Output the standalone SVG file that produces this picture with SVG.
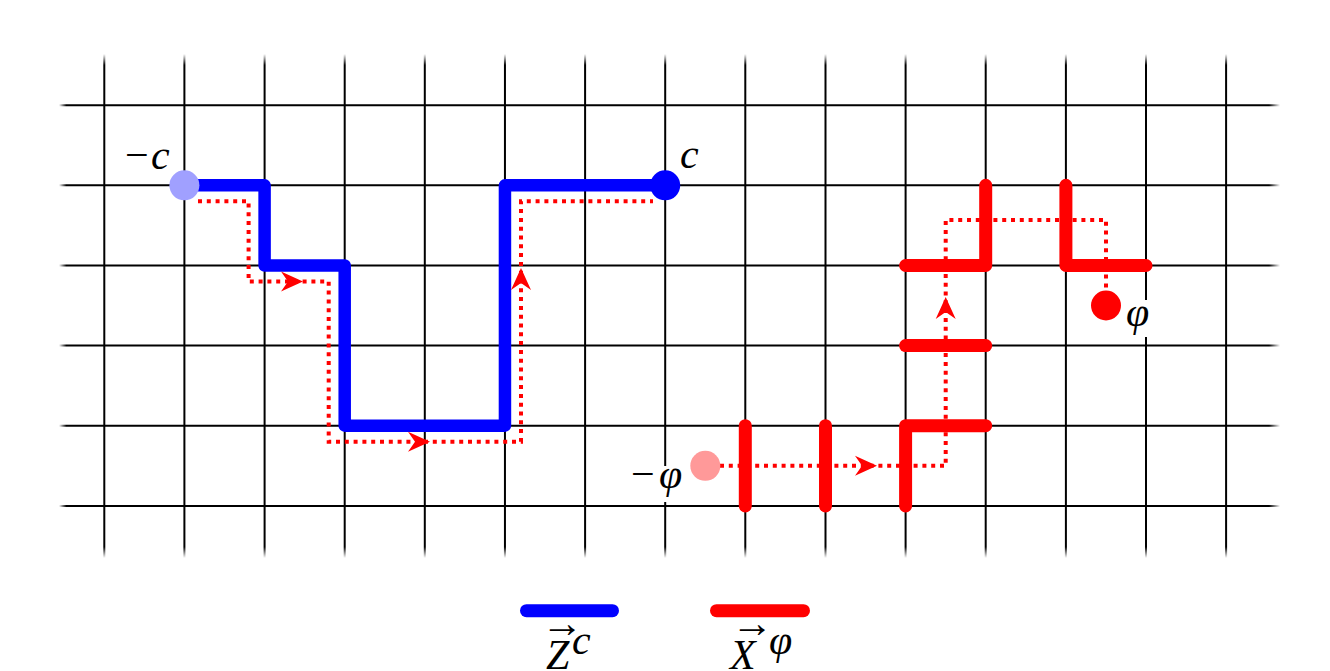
<svg xmlns="http://www.w3.org/2000/svg" xmlns:xlink="http://www.w3.org/1999/xlink" width="1330" height="671" viewBox="0 0 1330 671">
<style>
  .gv { stroke: url(#fadeV); stroke-width: 2; fill: none; }
  .gh { stroke: url(#fadeH); stroke-width: 2; fill: none; }
  .zc { stroke: #0000ff; stroke-width: 12.5; fill: none; stroke-linejoin: round; stroke-linecap: round; }
  .xp { stroke: #ff0000; stroke-width: 13; fill: none; stroke-linejoin: round; stroke-linecap: round; }
  .dot { stroke: #ff0000; stroke-width: 4; fill: none; stroke-dasharray: 4 4.8; }
  .ah { fill: #ff0000; }
  .lbl { font-family: "Liberation Serif", "DejaVu Serif", serif; font-size: 42px; fill: #000; }
  .it { font-style: italic; }
</style>
<defs>
  <linearGradient id="fadeV" gradientUnits="userSpaceOnUse" x1="0" y1="54" x2="0" y2="558">
    <stop offset="0" stop-color="#000" stop-opacity="0"/>
    <stop offset="0.022" stop-color="#000" stop-opacity="1"/>
    <stop offset="0.978" stop-color="#000" stop-opacity="1"/>
    <stop offset="1" stop-color="#000" stop-opacity="0"/>
  </linearGradient>
  <linearGradient id="fadeH" gradientUnits="userSpaceOnUse" x1="59" y1="0" x2="1280" y2="0">
    <stop offset="0" stop-color="#000" stop-opacity="0"/>
    <stop offset="0.006" stop-color="#000" stop-opacity="1"/>
    <stop offset="0.991" stop-color="#000" stop-opacity="1"/>
    <stop offset="1" stop-color="#000" stop-opacity="0"/>
  </linearGradient>
  <path id="ah" d="M0,0 L-22,-10 L-15,0 L-22,10 Z"/>
</defs>

<g id="grid">
  <path class="gv" d="M104.3,54 V558 M184.4,54 V558 M264.6,54 V558 M344.7,54 V558 M424.8,54 V558 M504.95,54 V558 M585.1,54 V558 M665.2,54 V558 M745.3,54 V558 M825.5,54 V558 M905.6,54 V558 M985.7,54 V558 M1065.9,54 V558 M1146,54 V558 M1226.1,54 V558"/>
  <path class="gh" d="M59,105.2 H1280 M59,185.3 H1280 M59,265.5 H1280 M59,345.6 H1280 M59,425.7 H1280 M59,505.9 H1280"/>
</g>

<g id="connectors">
  <path id="Zc-path" class="zc" d="M184.4,185.3 H264.6 V265.5 H344.7 V425.7 H504.95 V185.3 H665.2"/>
  <g id="Xphi-edges">
    <path class="xp" d="M745.3,425.7 V505.9"/>
    <path class="xp" d="M825.5,425.7 V505.9"/>
    <path class="xp" d="M905.6,505.9 V425.7 H985.7"/>
    <path class="xp" d="M905.6,345.6 H985.7"/>
    <path class="xp" d="M905.6,265.5 H985.7 V185.3"/>
    <path class="xp" d="M1065.9,185.3 V265.5 H1146"/>
  </g>
  <path id="dual-c" class="dot" d="M198,201.3 H248.6 V281.5 H328.7 V441.7 H521 V201.3 H653"/>
  <path id="dual-phi" class="dot" d="M720,465.8 H945.7 V220 H1106 V291"/>
  <use href="#ah" class="ah" transform="translate(303,281.5)"/>
  <use href="#ah" class="ah" transform="translate(430,441.7)"/>
  <use href="#ah" class="ah" transform="translate(521,268) rotate(-90)"/>
  <use href="#ah" class="ah" transform="translate(877,465.8)"/>
  <use href="#ah" class="ah" transform="translate(945.7,297) rotate(-90)"/>
</g>

<g id="node-minus-c">
  <circle cx="184.4" cy="185.3" r="15" fill="#a0a0ff"/>
  <text class="lbl" x="125" y="169">−</text>
  <text class="lbl it" x="151" y="169">c</text>
</g>
<g id="node-c">
  <circle cx="665.2" cy="185.3" r="15" fill="#0000ff"/>
  <text class="lbl it" x="680" y="168">c</text>
</g>
<g id="node-minus-phi">
  <circle cx="705.3" cy="465.8" r="15" fill="#ff9999"/>
  <rect x="655" y="466" width="34" height="36" fill="#fff"/>
  <text class="lbl" x="631" y="488">−</text>
  <text class="lbl it" x="659" y="488">φ</text>
</g>
<g id="node-phi">
  <circle cx="1106" cy="305.5" r="15" fill="#ff0000"/>
  <rect x="1125" y="300" width="32" height="37" fill="#fff"/>
  <text class="lbl it" x="1126" y="326">φ</text>
</g>

<g id="legend">
  <line x1="526.5" y1="610.7" x2="612.5" y2="610.7" stroke="#0000ff" stroke-width="13" stroke-linecap="round"/>
  <line x1="716.5" y1="610.7" x2="803.5" y2="610.7" stroke="#ff0000" stroke-width="13" stroke-linecap="round"/>
  <text class="lbl it" x="546" y="669" font-size="41">Z</text>
  <text class="lbl" x="562" y="637" font-size="18" text-anchor="middle">→</text>
  <text class="lbl it" x="572" y="654" font-size="28">c</text>
  <text class="lbl it" x="730" y="669" font-size="41">X</text>
  <text class="lbl" x="752" y="637" font-size="18" text-anchor="middle">→</text>
  <text class="lbl it" x="769" y="654" font-size="28">φ</text>
</g>
</svg>
